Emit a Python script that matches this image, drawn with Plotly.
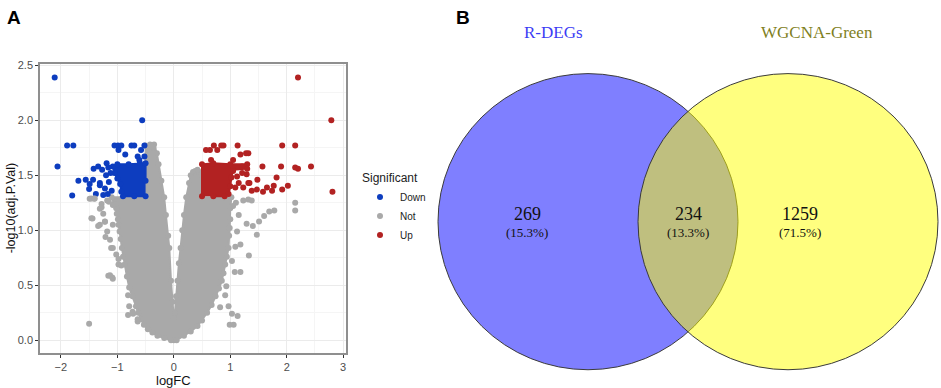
import plotly.graph_objects as go

W, H = 941, 388

# ---------------- Panel A data ----------------
# dense cores outlined as polygons (logFC, -log10 adj.P)
not_core_x = [0.0, -0.05, -0.17, -0.29, -0.38, -0.46, -0.53, -0.58, -0.63, -0.67, -0.73, -0.79,
              -0.83, -0.87, -0.9, -0.92, -0.94, -0.96, -0.98, -0.99, -1.01, -1.02,
              -1.06, -1.1, -0.9, -0.7, -0.5, -0.5, -0.5, -0.5, -0.42, -0.35, -0.3, -0.27, -0.22,
              -0.17, -0.14, -0.1, -0.08, -0.05, -0.02, 0.0, 0.02, 0.04, 0.065, 0.09, 0.12, 0.15,
              0.18, 0.22, 0.27, 0.3, 0.34, 0.45, 0.5, 0.5, 0.7, 0.9, 1.02, 1.0, 1.0, 0.99, 0.98,
              0.97, 0.94, 0.91, 0.88, 0.85, 0.8, 0.74, 0.67, 0.59, 0.5, 0.42, 0.3, 0.18, 0.05]
not_core_y = [0.0, 0.0, 0.02, 0.04, 0.07, 0.1, 0.14, 0.19, 0.25, 0.31, 0.4, 0.48,
              0.58, 0.69, 0.76, 0.84, 0.92, 0.99, 1.05, 1.1, 1.15, 1.2,
              1.24, 1.3, 1.3, 1.3, 1.3, 1.45, 1.6, 1.77, 1.78, 1.78, 1.7, 1.6, 1.45,
              1.3, 1.14, 0.95, 0.84, 0.54, 0.35, 0.2, 0.25, 0.4, 0.54, 0.7, 0.84, 1.0,
              1.14, 1.3, 1.43, 1.5, 1.53, 1.53, 1.5, 1.3, 1.3, 1.3, 1.3, 1.2, 1.1, 1.02, 0.95,
              0.84, 0.76, 0.69, 0.61, 0.54, 0.47, 0.4, 0.32, 0.25, 0.18, 0.13, 0.08, 0.04, 0.0]
down_core_x = [-0.5, -0.7, -0.9, -0.93, -0.95, -1.0, -1.05, -1.08, -1.0, -0.8, -0.6, -0.5, -0.5]
down_core_y = [1.31, 1.31, 1.31, 1.35, 1.42, 1.47, 1.52, 1.58, 1.6, 1.6, 1.61, 1.61, 1.45]
up_core_x = [0.5, 0.5, 0.7, 1.0, 1.3, 1.3, 1.05, 1.02, 1.0, 0.97, 0.9, 0.7]
up_core_y = [1.31, 1.6, 1.61, 1.6, 1.6, 1.56, 1.55, 1.48, 1.4, 1.33, 1.31, 1.31]

# scattered genes
not_x = [-1.49, -1.41, -1.28, -1.18, -1.31, -1.44, -1.34, -1.22, -1.18, -1.13, -1.08, -1.16,
         -1.09, -1.50, -1.02, -0.98, -0.81, -0.73, -0.64, -1.46, -1.40, -1.46, -1.31, -1.22,
         -1.25, -1.21, -1.11, -1.08, -0.98, -0.93, -1.13, -1.08, -0.81, -0.79, -0.72, -0.64,
         -1.28, -1.15, -1.08, -0.4, -0.36,
         2.15, 2.15, 1.78, 1.69, 1.60, 1.51, 1.47, 1.40, 1.29, 1.33, 1.18, 1.09, 1.18, 1.08,
         0.93, 0.97, 1.03, 1.13, 0.99, 1.06, 0.91, 0.82, 1.23, 1.32, 1.38, 1.15, 1.12, 1.03,
         1.1, 1.05, 0.38, 0.42]
not_y = [1.286, 1.286, 1.24, 1.27, 1.196, 1.107, 1.04, 1.077, 0.988, 0.914, 0.84, 0.586,
         0.571, 0.149, 0.78, 0.69, 0.23, 0.26, 0.17, 1.29, 1.29, 1.11, 1.05, 1.08,
         1.15, 0.94, 0.84, 1.05, 0.74, 0.68, 0.59, 0.56, 0.41, 0.31, 0.24, 0.19,
         1.21, 1.26, 1.23, 1.77, 1.75,
         1.25, 1.18, 1.18, 1.17, 1.13, 1.08, 0.96, 1.04, 1.06, 0.77, 0.87, 0.85, 0.62, 0.62,
         0.49, 0.31, 0.24, 0.22, 0.14, 0.14, 0.41, 0.30, 1.27, 1.28, 1.27, 1.14, 0.99, 0.72,
         1.25, 1.22, 1.54, 1.55]

down_x = [-2.11, -2.06, -1.89, -1.78, -1.80, -0.56, -1.42, -1.69, -1.56, -1.49, -1.43, -1.50,
          -1.38, -1.31, -1.31, -1.25, -1.34, -1.19, -1.05, -0.99, -0.93, -0.75, -0.70, -0.52,
          -0.98, -0.86, -0.58, -0.64, -0.61, -0.52, -1.16, -1.12, -1.2, -1.15, -1.1, -1.22,
          -1.27, -1.17]
down_y = [2.39, 1.58, 1.77, 1.77, 1.316, 2.0, 1.56, 1.45, 1.46, 1.42, 1.46, 1.375,
          1.33, 1.43, 1.41, 1.32, 1.58, 1.61, 1.77, 1.77, 1.77, 1.77, 1.77, 1.77,
          1.73, 1.69, 1.73, 1.67, 1.64, 1.67, 1.57, 1.52, 1.5, 1.44, 1.36, 1.38,
          1.55, 1.33]

up_x = [2.20, 2.79, 2.81, 1.92, 2.15, 2.15, 2.20, 2.43, 1.90, 1.57, 1.82, 2.02, 1.92, 1.77,
        1.74, 1.65, 1.58, 1.48, 1.47, 1.38, 1.32, 1.34, 1.29, 1.28, 1.32, 1.18, 1.13, 1.05,
        0.88, 0.84, 0.77, 0.71, 0.64, 0.57, 0.66, 1.21, 1.21, 1.12, 1.05, 1.15, 1.23, 1.09]
up_y = [2.39, 2.0, 1.35, 1.77, 1.77, 1.57, 1.56, 1.58, 1.58, 1.58, 1.48, 1.405, 1.37, 1.405,
        1.36, 1.39, 1.35, 1.46, 1.37, 1.36, 1.43, 1.43, 1.51, 1.70, 1.70, 1.69, 1.77, 1.64,
        1.77, 1.77, 1.73, 1.77, 1.73, 1.73, 1.64, 1.58, 1.52, 1.49, 1.54, 1.43, 1.39, 1.39]

x_ticks = [-2, -1, 0, 1, 2, 3]
y_ticks = [0.0, 0.5, 1.0, 1.5, 2.0, 2.5]

# ---------------- Panel B data ----------------
set_names = ["R-DEGs", "WGCNA-Green"]
venn_counts = [269, 234, 1259]   # only R-DEGs, both, only WGCNA-Green

# ---------------- styles ----------------
C_DOWN = "#0D3DBF"
C_NOT = "#A9A9A9"
C_UP = "#B22222"
MS = 6

def px(xp):
    return xp / W

def py(yp):
    return 1 - yp / H

fig = go.Figure()

for cx, cy, col in [(not_core_x, not_core_y, C_NOT), (down_core_x, down_core_y, C_DOWN),
                    (up_core_x, up_core_y, C_UP)]:
    fig.add_trace(go.Scatter(x=cx, y=cy, mode="lines+markers", fill="toself", fillcolor=col,
                             line=dict(color=col, width=2), marker=dict(color=col, size=MS),
                             showlegend=False, hoverinfo="skip", xaxis="x", yaxis="y"))

fig.add_trace(go.Scatter(x=down_x, y=down_y, mode="markers", name="Down",
                         marker=dict(color=C_DOWN, size=MS), xaxis="x", yaxis="y"))
fig.add_trace(go.Scatter(x=not_x, y=not_y, mode="markers", name="Not",
                         marker=dict(color=C_NOT, size=MS), xaxis="x", yaxis="y"))
fig.add_trace(go.Scatter(x=up_x, y=up_y, mode="markers", name="Up",
                         marker=dict(color=C_UP, size=MS), xaxis="x", yaxis="y"))

axis_common = dict(showline=True, mirror=True, linecolor="#8f8f8f", linewidth=1.5,
                   showgrid=True, gridcolor="#EBEBEB", gridwidth=1, zeroline=False,
                   ticks="outside", ticklen=3, tickcolor="#333333",
                   tickfont=dict(family="Liberation Sans", size=11, color="#4D4D4D"))

fig.update_layout(
    width=W, height=H, margin=dict(l=0, r=0, t=0, b=0),
    paper_bgcolor="white", plot_bgcolor="white",
    xaxis=dict(domain=[px(40), px(346)], range=[-2.37, 3.05], tickvals=x_ticks,
               minor=dict(dtick=0.5, tick0=0.5, showgrid=True, gridcolor="#F5F5F5", ticks=""),
               anchor="y", **axis_common),
    yaxis=dict(domain=[py(353), py(60)], range=[-0.12, 2.51], tickvals=y_ticks,
               tickformat=".1f",
               minor=dict(dtick=0.25, tick0=0.25, showgrid=True, gridcolor="#F5F5F5", ticks=""),
               anchor="x", **axis_common),
    legend=dict(x=px(360), y=py(164), xanchor="left", yanchor="top",
                title=dict(text="Significant", font=dict(family="Liberation Sans", size=12, color="#222")),
                font=dict(family="Liberation Sans", size=10, color="#222"),
                tracegroupgap=0, bgcolor="rgba(0,0,0,0)"),
    showlegend=True,
)

def note(text, xp, yp, size, color="#111", family="Liberation Sans", angle=0):
    return dict(text=text, x=px(xp), y=py(yp), xref="paper", yref="paper",
                xanchor="center", yanchor="middle", showarrow=False, textangle=angle,
                font=dict(family=family, size=size, color=color))

ann = [
    note("logFC", 173, 380, 13),
    note("-log10(adj.P.Val)", 11, 206, 12.5, angle=-90),
    note("<b>A</b>", 14, 13, 19, color="black"),
    note("<b>B</b>", 463, 13, 19, color="black"),
]

# ---------------- Venn ----------------
R = 150
cyv = 219.5
centers = [588, 788]
fills = ["rgba(0,0,255,0.5)", "rgba(255,255,0,0.5)"]
shapes = []
for cxv, fc in zip(centers, fills):
    shapes.append(dict(type="circle", xref="paper", yref="paper",
                       x0=px(cxv - R), x1=px(cxv + R), y0=py(cyv + R), y1=py(cyv - R),
                       fillcolor=fc, line=dict(color="#3a3a3a", width=1), layer="above"))

total = sum(venn_counts)
count_pos = [527, 688, 800]
for cnt, xp in zip(venn_counts, count_pos):
    ann.append(note(str(cnt), xp, 211.5, 18, family="Liberation Serif"))
    ann.append(note("(%.1f%%)" % (100 * cnt / total), xp, 230.5, 13, family="Liberation Serif"))

title_cols = ["#3C3CF5", "#7F7F1E"]
title_pos = [553, 817]
for name, colr, xp in zip(set_names, title_cols, title_pos):
    ann.append(note(name, xp, 28, 17, color=colr, family="Liberation Serif"))

fig.update_layout(shapes=shapes, annotations=ann)
fig.write_html("out.html", config={"displayModeBar": False},
               post_script="document.body.style.margin='0';document.body.style.overflow='hidden';")
